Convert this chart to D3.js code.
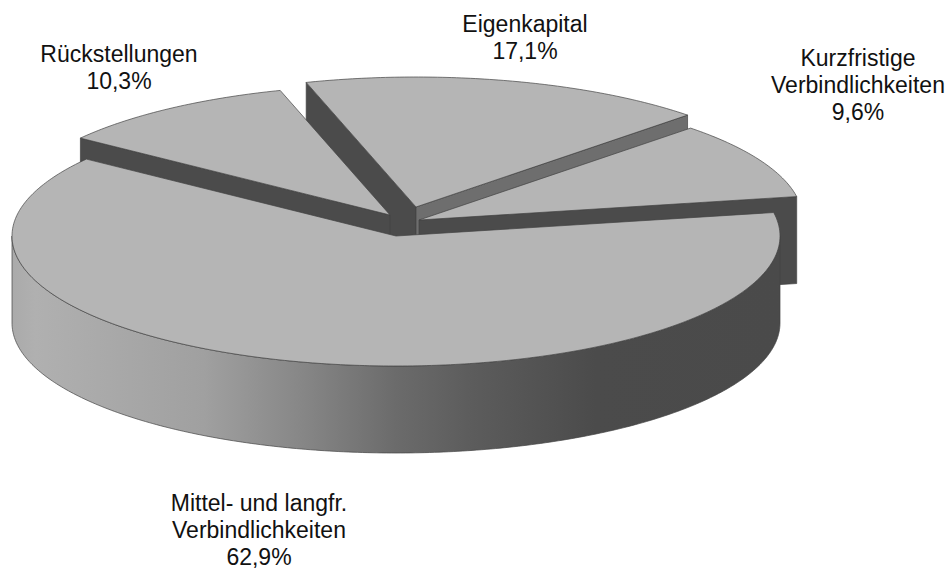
<!DOCTYPE html>
<html><head><meta charset="utf-8">
<style>html,body{margin:0;padding:0;background:#fff}svg{display:block}text{font-family:"Liberation Sans",Arial,sans-serif;fill:#111;text-anchor:middle}</style>
<script src="https://cdn.jsdelivr.net/npm/d3@7"></script></head><body>
<svg id="c" width="952" height="570"></svg>
<script>
const categories = ["Mittel- und langfr. Verbindlichkeiten","Rückstellungen","Eigenkapital","Kurzfristige Verbindlichkeiten"];
const values = [62.9,10.3,17.1,9.6];
const valueLabels = ["62,9%","10,3%","17,1%","9,6%"];
const labelLines = [["Mittel- und langfr.","Verbindlichkeiten"],["Rückstellungen"],["Eigenkapital"],["Kurzfristige","Verbindlichkeiten"]];

// layout
const W=952,H=570,cx=396,cy=236,Rx=384,Ry=130,depth=87;
const explode=[[0,0],[-6,-21],[20,-29],[23,-16]];
const labelPos=[[259,511],[119,62],[525,32],[858,66]];
const lineH=27, fontSize=23, faceColor="#b5b5b5", wallDark="#4b4b4b", wallMid="#6e6e6e", edge="#444";
const startDeg=79.6;

const svg=d3.select("#c");
const defs=svg.append("defs");
const grad=defs.append("linearGradient").attr("id","side").attr("gradientUnits","userSpaceOnUse")
  .attr("x1",cx-Rx).attr("x2",cx+Rx).attr("y1",0).attr("y2",0);
[[0,"#aaaaaa"],[0.03,"#b0b0b0"],[0.25,"#a0a0a0"],[0.38,"#868686"],[0.5,"#6b6b6b"],[0.6,"#5c5c5c"],[0.76,"#4b4b4b"],[1,"#4a4a4a"]]
 .forEach(([o,c])=>grad.append("stop").attr("offset",o).attr("stop-color",c));

const sx=d3.scaleLinear().domain([-1,1]).range([-Rx,Rx]);
const sy=d3.scaleLinear().domain([-1,1]).range([-Ry,Ry]);
const pie=d3.pie().sort(null).startAngle(startDeg*Math.PI/180).endAngle((startDeg+360)*Math.PI/180);
const arcs=pie(values);
const pt=(a,i,dy=0)=>[cx+explode[i][0]+sx(Math.sin(a)),cy+explode[i][1]+sy(-Math.cos(a))+dy];
const apex=(i,dy=0)=>[cx+explode[i][0],cy+explode[i][1]+dy];
const line=d3.line();
const arcPts=(a0,a1,i,dy=0)=>{const n=Math.max(2,Math.ceil(Math.abs(a1-a0)*80));return d3.range(n+1).map(k=>pt(a0+(a1-a0)*k/n,i,dy));};
const poly=(pts,fill,sw=0.7)=>svg.append("path").attr("d",line(pts)+"Z").attr("fill",fill).attr("stroke",edge).attr("stroke-width",sw).attr("stroke-linejoin","round");
const face=i=>poly([apex(i),...arcPts(arcs[i].startAngle,arcs[i].endAngle,i)],faceColor);
const wall=(i,a,fill)=>poly([apex(i),pt(a,i),pt(a,i,depth),apex(i,depth)],fill);

// Eigenkapital
wall(2,arcs[2].startAngle,wallDark);
wall(2,arcs[2].endAngle,wallMid);
face(2);
// Kurzfristige Verbindlichkeiten
wall(3,arcs[3].endAngle,wallDark);
face(3);
// Rückstellungen
wall(1,arcs[1].startAngle,wallDark);
face(1);
// Mittel- und langfr. Verbindlichkeiten: rim then top
const frontStart=Math.PI/2, frontEnd=Math.PI*1.5;
poly([...arcPts(frontStart,frontEnd,0),...arcPts(frontEnd,frontStart,0,depth)],"url(#side)");
face(0);

// Labels
categories.forEach((c,i)=>{
  const lines=[...labelLines[i],valueLabels[i]];
  lines.forEach((t,k)=>svg.append("text").attr("x",labelPos[i][0]).attr("y",labelPos[i][1]+k*lineH).attr("font-size",fontSize).text(t));
});
</script></body></html>
